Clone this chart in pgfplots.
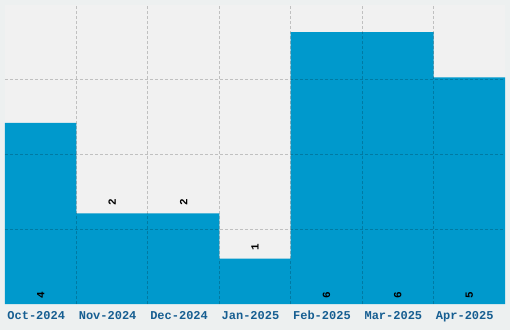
\documentclass[border=0pt]{standalone}
\usepackage{pgfplots}
\pgfplotsset{compat=1.18}
\usepackage{fontspec}
\setmainfont{Liberation Mono}
\definecolor{outerbg}{HTML}{EDF0F0}
\definecolor{plotbg}{HTML}{F1F1F1}
\definecolor{barc}{HTML}{0099CC}
\definecolor{tickc}{HTML}{165E91}
\begin{document}
\begin{tikzpicture}
\fill[outerbg] (0,0) rectangle (510pt,330pt);
\begin{axis}[
  at={(5pt,26pt)}, anchor=south west,
  width=500pt, height=299pt, scale only axis,
  xmin=-0.5, xmax=6.5, ymin=0, ymax=6.6,
  /pgf/number format/assume math mode=true,
  axis background/.style={fill=plotbg},
  axis line style={draw=none},
  axis on top,
  xtick={0,1,2,3,4,5,6},
  xticklabels={\hbox{Oct-2024},\hbox{Nov-2024},\hbox{Dec-2024},\hbox{Jan-2025},\hbox{Feb-2025},\hbox{Mar-2025},\hbox{Apr-2025}},
  minor xtick={0.5,1.5,2.5,3.5,4.5,5.5},
  ytick={1.65,3.3,4.95}, yticklabels={},
  major tick length=0pt, minor tick length=0pt,
  xmajorgrids=false, xminorgrids=true, ymajorgrids=true,
  grid style={black, opacity=0.2, dash pattern=on 3pt off 2pt, line width=1pt},
  minor grid style={black, opacity=0.2, dash pattern=on 3pt off 2pt, line width=1pt},
  x tick label style={font=\fontsize{12}{12}\selectfont\bfseries, text=tickc,
    text height=9pt, text depth=2pt, yshift=-3pt, xshift=-4.5pt},
]
\addplot[ybar, bar width=1, bar shift=0pt, fill=barc, draw=none,
  nodes near coords={\pgfmathprintnumber[assume math mode=true]{\pgfplotspointmeta}},
  visualization depends on={\thisrow{s} \as \ls},
  every node near coord/.append style={font=\fontsize{11}{11}\selectfont\bfseries, text=black,
    anchor=center, yshift=\ls pt, rotate=90},
] table {
x y s
0 4 -172.7
1 2 11
2 2 11
3 1 11.5
4 6 -263.3
5 6 -263.3
6 5 -218
};
\end{axis}
\pgfresetboundingbox
\useasboundingbox (0,0) rectangle (510pt,330pt);
\end{tikzpicture}
\end{document}
